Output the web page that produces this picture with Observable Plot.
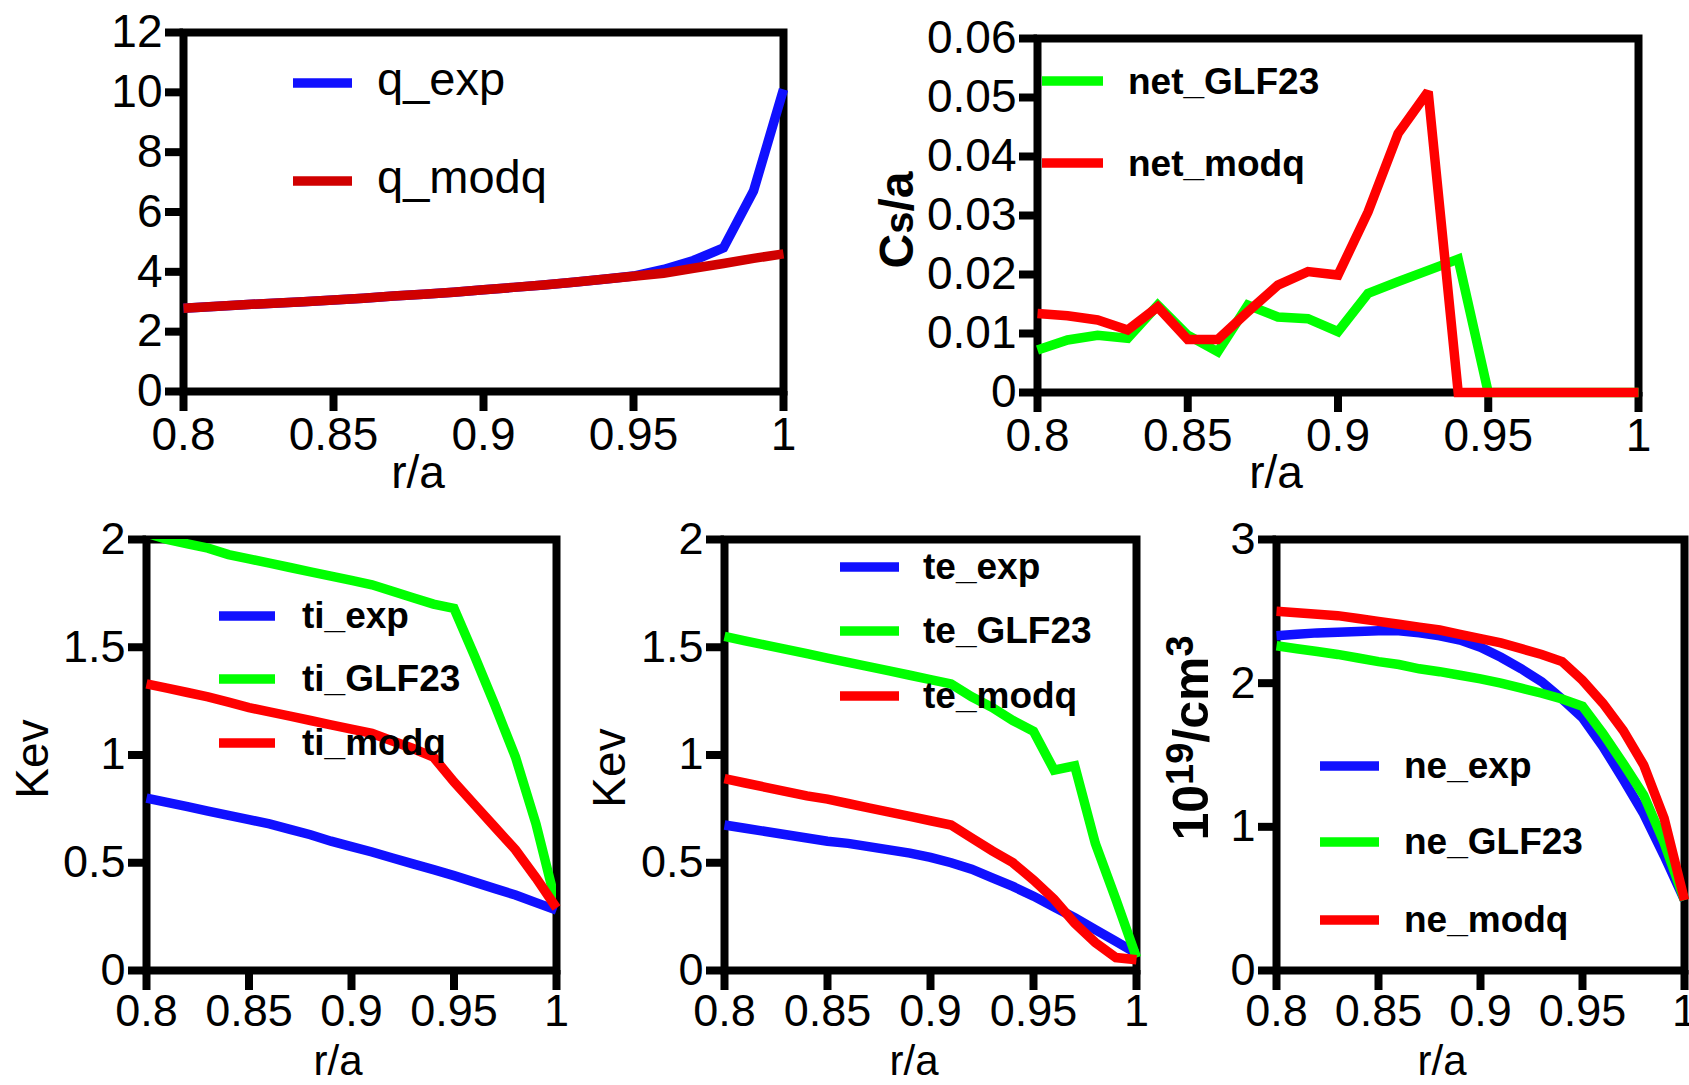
<!DOCTYPE html>
<html>
<head>
<meta charset="utf-8">
<script src="https://cdn.jsdelivr.net/npm/d3@7"></script>
<script src="https://cdn.jsdelivr.net/npm/@observablehq/plot@0.6"></script>
<style>
html, body { margin: 0; padding: 0; background: #fff; overflow: hidden; }
#page { position: relative; width: 1689px; height: 1085px; }
#page svg { position: absolute; left: 0; top: 0; }
</style>
</head>
<body>
<div id="page"></div>
<script>
// ---------- data ----------
const rA = [0.80,0.81,0.82,0.83,0.84,0.85,0.86,0.87,0.88,0.89,0.90,0.91,0.92,0.93,0.94,0.95,0.96,0.97,0.98,0.99,1.00];
const xTicks = [0.8, 0.85, 0.9, 0.95, 1];

const q_exp  = [2.78,2.84,2.90,2.95,3.00,3.06,3.12,3.19,3.25,3.32,3.40,3.48,3.56,3.65,3.75,3.86,4.08,4.38,4.80,6.70,10.10];
const q_modq = [2.78,2.84,2.90,2.95,3.00,3.06,3.12,3.19,3.25,3.32,3.40,3.48,3.56,3.65,3.75,3.85,3.95,4.12,4.28,4.45,4.60];
const qTicks = [0,2,4,6,8,10,12];

const net_GLF23 = [0.0072,0.0089,0.0097,0.0092,0.0148,0.0097,0.0069,0.0148,0.0128,0.0125,0.0103,0.0168,0.0188,0.0207,0.0226,0,0,0,0,0,0];
const net_modq  = [0.0134,0.0130,0.0123,0.0106,0.0145,0.0090,0.0090,0.0137,0.0182,0.0205,0.0199,0.0306,0.0439,0.0510,0,0,0,0,0,0,0];
const netTicks = [0,0.01,0.02,0.03,0.04,0.05,0.06];

const ti_exp   = [0.80,0.78,0.76,0.74,0.72,0.70,0.68,0.655,0.63,0.60,0.575,0.55,0.522,0.495,0.468,0.44,0.41,0.38,0.35,0.315,0.28];
const ti_GLF23 = [2.03,2.00,1.98,1.96,1.93,1.91,1.89,1.87,1.85,1.83,1.81,1.79,1.76,1.73,1.70,1.68,1.46,1.23,0.99,0.68,0.30];
const ti_modq  = [1.33,1.31,1.29,1.27,1.245,1.22,1.20,1.18,1.16,1.14,1.12,1.10,1.065,1.03,0.99,0.875,0.77,0.665,0.56,0.43,0.29];
const kevTicks = [0,0.5,1,1.5,2];

const te_exp   = [0.675,0.66,0.645,0.63,0.615,0.60,0.59,0.575,0.56,0.545,0.525,0.50,0.47,0.43,0.39,0.345,0.295,0.245,0.19,0.135,0.08];
const te_GLF23 = [1.55,1.53,1.51,1.49,1.47,1.45,1.43,1.41,1.39,1.37,1.35,1.33,1.27,1.22,1.16,1.11,0.93,0.95,0.59,0.33,0.06];
const te_modq  = [0.89,0.87,0.85,0.83,0.81,0.795,0.775,0.755,0.735,0.715,0.695,0.675,0.615,0.555,0.50,0.42,0.33,0.22,0.13,0.06,0.05];

const ne_exp   = [2.33,2.34,2.35,2.355,2.36,2.365,2.365,2.35,2.33,2.30,2.25,2.18,2.10,2.01,1.89,1.76,1.56,1.33,1.09,0.80,0.49];
const ne_GLF23 = [2.26,2.24,2.22,2.20,2.175,2.15,2.13,2.10,2.08,2.055,2.03,2.00,1.965,1.93,1.89,1.84,1.65,1.44,1.22,0.89,0.49];
const ne_modq  = [2.50,2.49,2.48,2.47,2.45,2.43,2.41,2.39,2.37,2.34,2.31,2.28,2.24,2.20,2.15,2.02,1.86,1.67,1.43,1.06,0.49];
const neTicks = [0,1,2,3];

// ---------- styling ----------
const BLUE = "#1010ff", GREEN = "#00ff00", RED = "#ff0000", DARKRED = "#d00000";
const FONT = "'Liberation Sans', Arial, 'DejaVu Sans', sans-serif";
const W = 1689, H = 1085;
const LINE_W = 9.5;
const page = document.getElementById("page");

function panel(cfg) {
  const [L, T, R, B] = cfg.frame;
  const fs = cfg.tickFont;
  const marks = [
    Plot.frame({stroke: "black", strokeWidth: 8}),
    Plot.axisX({ticks: xTicks, tickFormat: d => `${d}`, tickSize: 20, tickPadding: cfg.xPad, strokeWidth: 8, fontSize: fs, label: null}),
    Plot.axisY({ticks: cfg.yTicks, tickFormat: d => `${d}`, tickSize: 18, tickPadding: 3, strokeWidth: 8, fontSize: fs, label: null}),
    ...cfg.series.map(s => Plot.line(rA.map((x, i) => ({x, y: s.values[i]})), {
      x: "x", y: "y", stroke: s.color, strokeWidth: LINE_W,
      strokeLinejoin: "miter", strokeMiterlimit: 2, strokeLinecap: "butt",
      clip: !!s.clip
    }))
  ];
  const svg = Plot.plot({
    width: W, height: H,
    marginLeft: L, marginTop: T, marginRight: W - R, marginBottom: H - B,
    x: {domain: [0.8, 1]},
    y: {domain: cfg.yDomain},
    style: {fontFamily: FONT, fontSize: `${fs}px`, background: "transparent", color: "black", overflow: "visible"},
    marks
  });
  const g = d3.select(svg).append("g").attr("fill", "black").attr("font-family", FONT).attr("text-anchor", "start");
  // legend
  const lg = cfg.legend;
  cfg.series.forEach((s, k) => {
    const y = lg.y[k];
    g.append("line").attr("x1", lg.x1).attr("x2", lg.x2).attr("y1", y).attr("y2", y)
      .attr("stroke", s.color).attr("stroke-width", LINE_W);
    g.append("text").attr("x", lg.tx).attr("y", y + lg.base)
      .attr("text-anchor", "start")
      .attr("font-size", lg.size).attr("font-weight", lg.weight)
      .text(s.name);
  });
  // x title
  g.append("text").attr("x", cfg.xTitle[0]).attr("y", cfg.xTitle[1])
    .attr("text-anchor", "middle").attr("font-size", cfg.xTitle[2]).text("r/a");
  // y title
  if (cfg.yTitle) {
    const yt = cfg.yTitle;
    const t = g.append("text")
      .attr("transform", `translate(${yt.x},${yt.y}) rotate(-90)`)
      .attr("text-anchor", "middle").attr("font-size", yt.size)
      .attr("font-weight", yt.weight);
    yt.parts.forEach(p => {
      const ts = t.append("tspan").text(p.t);
      if (p.size) ts.attr("font-size", p.size);
      if (p.dy) ts.attr("dy", p.dy);
    });
  }
  page.appendChild(svg);
}

panel({
  frame: [183, 32, 783, 391], yDomain: [0, 12], yTicks: qTicks, tickFont: 46, xPad: 6,
  series: [
    {name: "q_exp", values: q_exp, color: BLUE},
    {name: "q_modq", values: q_modq, color: DARKRED}
  ],
  legend: {x1: 293, x2: 352, tx: 377, y: [83, 181], base: 12, size: 47, weight: "normal"},
  xTitle: [418, 488, 46]
});

panel({
  frame: [1037, 38, 1638, 392], yDomain: [0, 0.06], yTicks: netTicks, tickFont: 46, xPad: 6,
  series: [
    {name: "net_GLF23", values: net_GLF23, color: GREEN},
    {name: "net_modq", values: net_modq, color: RED}
  ],
  legend: {x1: 1042, x2: 1103, tx: 1128, y: [81, 163], base: 13, size: 37, weight: "bold"},
  xTitle: [1276, 488, 46],
  yTitle: {x: 913, y: 220, size: 48, weight: "bold", parts: [{t: "C"}, {t: "s", size: 40}, {t: "/a"}]}
});

panel({
  frame: [146, 539, 556, 970], yDomain: [0, 2], yTicks: kevTicks, tickFont: 45, xPad: 4,
  series: [
    {name: "ti_exp", values: ti_exp, color: BLUE},
    {name: "ti_GLF23", values: ti_GLF23, color: GREEN, clip: true},
    {name: "ti_modq", values: ti_modq, color: RED}
  ],
  legend: {x1: 219, x2: 275, tx: 302, y: [616, 679, 743], base: 12, size: 37, weight: "bold"},
  xTitle: [338, 1075, 42],
  yTitle: {x: 48, y: 759, size: 46, weight: "normal", parts: [{t: "Kev"}]}
});

panel({
  frame: [724, 539, 1136, 970], yDomain: [0, 2], yTicks: kevTicks, tickFont: 45, xPad: 4,
  series: [
    {name: "te_exp", values: te_exp, color: BLUE},
    {name: "te_GLF23", values: te_GLF23, color: GREEN},
    {name: "te_modq", values: te_modq, color: RED}
  ],
  legend: {x1: 840, x2: 899, tx: 923, y: [567, 631, 696], base: 12, size: 37, weight: "bold"},
  xTitle: [914, 1075, 42],
  yTitle: {x: 625, y: 768, size: 46, weight: "normal", parts: [{t: "Kev"}]}
});

panel({
  frame: [1276, 539, 1684, 970], yDomain: [0, 3], yTicks: neTicks, tickFont: 45, xPad: 4,
  series: [
    {name: "ne_exp", values: ne_exp, color: BLUE},
    {name: "ne_GLF23", values: ne_GLF23, color: GREEN},
    {name: "ne_modq", values: ne_modq, color: RED}
  ],
  legend: {x1: 1320, x2: 1379, tx: 1404, y: [766, 842, 920], base: 12, size: 37, weight: "bold"},
  xTitle: [1442, 1075, 42],
  yTitle: {x: 1208, y: 738, size: 50, weight: "bold",
    parts: [{t: "10"}, {t: "19", size: 38, dy: -15}, {t: "/cm", dy: 15}, {t: "3", size: 38, dy: -15}]}
});
</script>
</body>
</html>
